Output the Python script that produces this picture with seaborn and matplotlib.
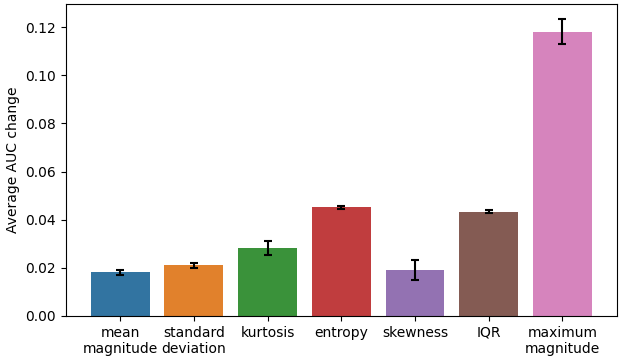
# Average AUC change per feature, with error bars.
import matplotlib

matplotlib.use("Agg")
import matplotlib.pyplot as plt
import pandas as pd
import seaborn as sns

features = ["mean\nmagnitude", "standard\ndeviation", "kurtosis", "entropy",
            "skewness", "IQR", "maximum\nmagnitude"]
auc_change = [0.0181, 0.0210, 0.0283, 0.0451, 0.0190, 0.0434, 0.1182]
auc_err = [0.0010, 0.0010, 0.0030, 0.0008, 0.0041, 0.0008, 0.0052]

df = pd.DataFrame({"feature": features, "auc": auc_change, "err": auc_err})

plt.rcParams["font.size"] = 10
fig, ax = plt.subplots(figsize=(6.2, 3.59), dpi=100)
sns.barplot(data=df, x="feature", y="auc", hue="feature", legend=False,
            palette="tab10", errorbar=None, width=0.8, ax=ax)
ax.errorbar(range(len(df)), df["auc"], yerr=df["err"], fmt="none",
            ecolor="black", elinewidth=1.5, capsize=3, capthick=1.5)
ax.set_xlim(-0.74, 6.74)
ax.set_ylim(0, 0.1297)
ax.set_xlabel("")
ax.set_ylabel("Average AUC change")
fig.subplots_adjust(left=0.106, right=0.995, top=0.989, bottom=0.12)
plt.savefig("out.png", dpi=100)
